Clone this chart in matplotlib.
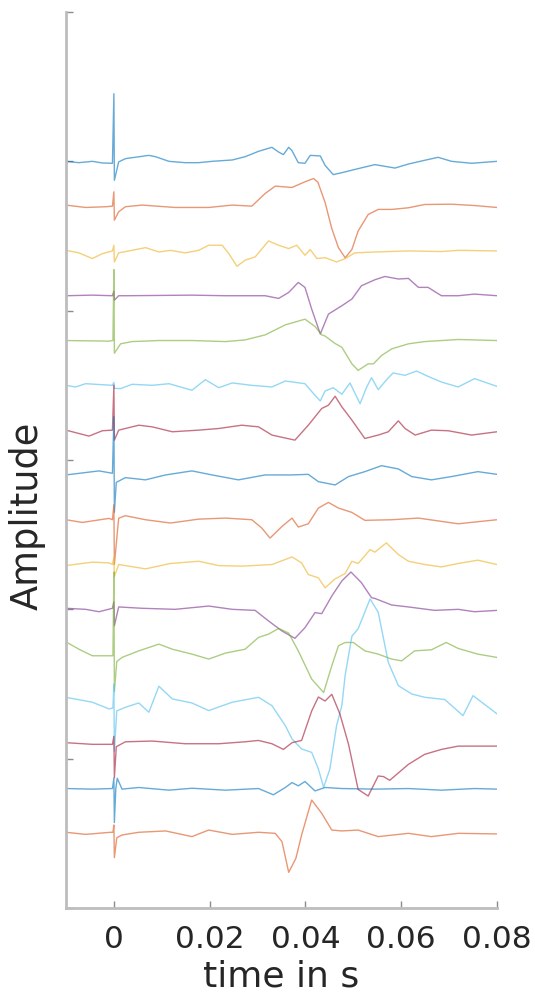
# 刺激後の応答波形を縦に並べて表示する

import matplotlib.pyplot as plt
import numpy as np

# データ定義 (時間 ms, 振幅) -------------------------------------------------
tr01 = [(-10, 0), (-7.3, -0.009), (-4.5, 0), (-2.4, -0.011), (-0.3, -0.013), (0, 0.453), (0.1, -0.127),
        (1.0, -0.004), (2.4, 0.018), (7.3, 0.040), (8.7, 0.031), (11.5, 0), (14.9, -0.009), (17.7, -0.009),
        (20.5, 0), (24.7, 0.009), (27.4, 0.031), (30.2, 0.067), (33.0, 0.094), (34.4, 0.062), (35.4, 0.045),
        (36.5, 0.094), (37.2, 0.071), (38.5, -0.009), (39.9, -0.013), (41.0, 0.040), (43.1, 0.036),
        (44.1, -0.027), (45.8, -0.089), (47.6, -0.076), (51.0, -0.049), (54.5, -0.022), (58.7, -0.045),
        (61.5, -0.018), (64.9, 0.007), (67.7, 0.027), (70.5, 0), (74.7, -0.013), (80, 0)]
tr02 = [(-10, 0.007), (-5.9, -0.009), (-1.7, -0.004), (-0.3, 0), (0, 0.096), (0.1, -0.094), (1.0, -0.038),
        (2.4, -0.004), (5.9, 0.007), (12.8, -0.009), (19.8, -0.009), (24.7, 0.007), (28.8, 0), (31.6, 0.085),
        (33.7, 0.134), (37.2, 0.125), (39.9, 0.163), (41.7, 0.185), (42.6, 0.16), (44.1, 0.025), (45.5, -0.15),
        (46.9, -0.279), (48.3, -0.346), (49.7, -0.29), (51.0, -0.167), (53.1, -0.056), (55.2, -0.022),
        (58.0, -0.022), (61.5, -0.011), (64.9, 0.011), (70.5, 0.013), (75.3, 0.004), (80, -0.009)]
tr03 = [(-10, 0.004), (-7.3, -0.013), (-4.5, -0.051), (-2.4, -0.018), (-0.3, 0), (0, 0.038), (0.1, -0.074),
        (1.0, -0.013), (3.1, 0), (6.6, 0.022), (9.4, -0.007), (11.8, 0.004), (14.9, -0.013), (17.7, 0.004),
        (19.8, 0.038), (22.6, 0.038), (24.0, -0.018), (25.7, -0.103), (27.4, -0.062), (29.5, -0.040),
        (32.3, 0.067), (34.4, 0.038), (36.5, 0.016), (38.2, 0.038), (39.9, -0.029), (41.0, 0.009),
        (42.4, -0.051), (44.1, -0.045), (46.5, -0.074), (48.3, -0.051), (50.3, -0.013), (54.5, -0.007),
        (61.5, 0), (68.4, -0.004), (71.9, 0.004), (80, 0)]
tr04 = [(-10, 0), (-4.5, 0.004), (-0.3, 0), (0, 0.03), (0.1, -0.03), (1.0, 0), (2.4, 0), (16.3, 0.004),
        (23.3, 0), (31.6, 0), (34.4, -0.018), (36.5, 0.022), (38.5, 0.089), (39.9, 0.056), (41.3, -0.089),
        (43.1, -0.256), (44.8, -0.123), (47.6, -0.067), (49.7, -0.022), (51.7, 0.067), (54.5, 0.107),
        (56.6, 0.129), (59.4, 0.112), (61.5, 0.116), (63.6, 0.056), (65.6, 0.056), (68.4, 0), (71.9, 0),
        (75.3, 0.011), (80, 0)]
tr05 = [(-10, 0), (-1.0, -0.004), (-0.2, 0), (0, 0.475), (0.1, -0.085), (1.4, -0.022), (3.8, -0.007),
        (9.4, 0), (16.3, 0), (23.3, -0.007), (27.4, 0.004), (31.6, 0.038), (35.8, 0.105), (39.9, 0.143),
        (42.0, 0.094), (43.4, 0.038), (44.1, 0.03), (46.2, -0.02), (47.6, -0.045), (49.7, -0.156),
        (51.0, -0.2), (53.1, -0.156), (54.2, -0.156), (55.9, -0.1), (58.0, -0.056), (61.5, -0.022),
        (64.9, -0.007), (71.9, 0.007), (80, 0)]
tr06 = [(-10, 0), (-8.0, -0.011), (-5.9, 0.011), (-0.3, 0), (0, 0.02), (0.1, -0.02), (1.4, -0.022),
        (3.8, 0.007), (8.0, 0), (11.5, 0.011), (16.3, -0.033), (19.1, 0.038), (21.9, -0.016), (24.7, 0.016),
        (28.8, 0), (33.0, -0.011), (35.8, 0.029), (39.9, 0.011), (41.7, -0.056), (43.1, -0.105),
        (44.1, -0.038), (45.8, -0.016), (47.6, -0.060), (49.3, 0.016), (51.4, -0.123), (52.8, -0.011),
        (53.8, 0.051), (55.2, -0.029), (56.9, 0.036), (58.3, 0.083), (60.8, 0.067), (63.2, 0.096),
        (65.6, 0.060), (68.4, 0.022), (71.9, -0.011), (75.3, 0.045), (80, -0.007)]
tr07 = [(-10, 0), (-5.2, -0.040), (-2.4, -0.004), (-0.3, 0), (0, 0.301), (0.1, -0.067), (1.0, 0),
        (5.2, 0.033), (8.0, 0.022), (12.2, -0.011), (17.7, 0), (21.9, 0.011), (26.7, 0.033), (30.2, 0.022),
        (33.0, -0.033), (37.8, -0.067), (40.6, 0.033), (43.4, 0.145), (44.8, 0.167), (46.2, 0.227),
        (47.6, 0.156), (49.7, 0.067), (52.4, -0.056), (55.2, -0.033), (57.3, -0.011), (59.4, 0.062),
        (60.8, 0.011), (62.9, -0.033), (66.3, 0), (69.8, -0.004), (74.7, -0.033), (80, -0.011)]
tr08 = [(-10, 0), (-3.1, 0.027), (-0.3, 0.011), (0, 0.39), (0.1, -0.25), (0.5, -0.05), (2.4, -0.018),
        (6.6, -0.033), (10.8, 0), (16.3, 0.027), (20.5, 0), (26.0, -0.033), (31.6, 0), (37.2, 0),
        (40.6, 0.004), (42.7, -0.045), (46.2, -0.067), (49.0, -0.011), (52.4, 0.022), (55.9, 0.062),
        (59.4, 0.040), (62.2, -0.011), (66.3, -0.033), (70.5, -0.011), (76.0, 0.022), (80, 0.004)]
tr09 = [(-10, 0), (-6.6, -0.018), (-1.0, 0.009), (-0.3, 0), (0, 0.1), (0.1, -0.30), (1.0, 0.01),
        (2.4, 0.027), (6.6, 0), (11.8, -0.022), (17.7, 0.004), (23.3, 0.011), (28.8, 0), (30.9, -0.056),
        (32.6, -0.123), (35.1, -0.045), (37.2, 0.011), (38.5, -0.049), (40.6, -0.027), (42.7, 0.078),
        (44.8, 0.116), (46.9, 0.078), (49.7, 0.049), (52.4, -0.004), (58.0, 0), (63.6, 0.011),
        (68.4, -0.011), (71.9, -0.027), (80, 0)]
tr10 = [(-10, -0.007), (-4.5, 0.016), (-1.0, 0.011), (-0.3, 0), (0, 0.05), (0.1, -0.08), (1.0, 0),
        (2.4, -0.007), (6.6, -0.029), (11.8, 0.007), (17.7, 0.022), (21.9, -0.007), (26.7, -0.011), (33.0, 0),
        (37.2, 0.051), (39.2, 0.011), (40.6, -0.067), (42.7, -0.089), (44.1, -0.156), (46.2, -0.096),
        (48.3, -0.060), (49.7, 0.022), (51.0, 0.007), (53.5, 0.100), (54.5, 0.083), (56.9, 0.145),
        (59.4, 0.067), (61.5, 0.022), (64.9, 0), (68.4, -0.016), (71.9, 0.007), (76.0, 0.029), (80, 0)]
tr11 = [(-10, 0.007), (-5.9, 0), (-3.1, -0.016), (-0.3, 0.007), (0, 0.05), (0.1, -0.11), (1.0, 0.016),
        (5.9, 0.007), (12.8, 0), (19.8, 0.022), (24.7, 0), (29.5, -0.007), (32.3, -0.078), (35.1, -0.145),
        (37.8, -0.194), (39.9, -0.123), (42.0, -0.022), (43.4, -0.029), (45.5, 0.089), (47.6, 0.19),
        (49.5, 0.25), (51.7, 0.178), (53.8, 0.078), (54.5, 0.073), (58.0, 0.029), (61.5, 0.016),
        (67.0, -0.007), (71.9, 0), (75.3, -0.016), (80, -0.007)]
tr12 = [(-10, 0.082), (-7.3, 0.033), (-4.5, -0.011), (-1.0, -0.011), (-0.2, -0.011), (0, 0.55), (0.1, -0.25),
        (0.6, -0.05), (1.7, -0.022), (5.2, 0.022), (9.4, 0.067), (12.2, 0.033), (16.3, 0), (19.8, -0.033),
        (23.3, 0.007), (27.4, 0.033), (30.2, 0.112), (32.3, 0.134), (34.4, 0.172), (36.5, 0.141),
        (38.5, 0.022), (41.3, -0.167), (43.8, -0.257), (45.5, -0.078), (46.9, 0.056), (48.3, 0.078),
        (50.0, 0.078), (52.4, 0.022), (55.2, 0), (58.0, -0.033), (60.1, -0.045), (62.8, 0.022),
        (66.3, 0.029), (69.4, 0.078), (71.9, 0.038), (76.0, 0), (80, -0.022)]
tr13 = [(-10, 0.011), (-4.5, -0.022), (-1.0, -0.067), (-0.2, -0.06), (0, 0.1), (0.1, -0.35), (0.6, -0.08),
        (2.4, -0.056), (5.2, -0.027), (7.3, -0.089), (9.4, 0.085), (12.2, 0), (16.3, -0.027), (19.8, -0.078),
        (24.7, -0.022), (30.2, 0.011), (33.0, -0.045), (35.8, -0.179), (37.2, -0.268), (39.2, -0.335),
        (41.3, -0.358), (42.7, -0.469), (43.8, -0.592), (45.1, -0.469), (46.5, -0.179), (47.6, -0.045),
        (48.3, 0.16), (49.7, 0.42), (51.0, 0.47), (53.5, 0.67), (55.2, 0.58), (57.3, 0.245), (59.4, 0.089),
        (62.2, 0.033), (64.9, 0.011), (69.1, -0.004), (72.9, -0.112), (75.0, 0.022), (80, -0.1)]
tr14 = [(-10, 0.007), (-4.5, -0.004), (-0.3, -0.004), (0, 0.05), (0.1, -0.228), (0.5, -0.02), (2.4, 0.013),
        (8.0, 0.018), (14.9, 0), (21.9, 0), (27.4, 0.013), (30.2, 0.022), (33.0, 0), (35.4, -0.038),
        (37.2, 0.007), (39.2, 0.022), (41.3, 0.219), (42.7, 0.313), (44.1, 0.286), (45.5, 0.331),
        (47.2, 0.199), (49.0, -0.004), (51.0, -0.306), (53.1, -0.35), (55.2, -0.216), (56.3, -0.22),
        (57.6, -0.245), (61.5, -0.138), (64.9, -0.071), (68.4, -0.038), (71.9, -0.016), (80, -0.016)]
tr15 = [(-10, 0), (-4.5, -0.004), (-0.3, 0), (0, 0.07), (0.1, -0.228), (0.4, 0), (0.7, 0.069), (1.7, -0.004),
        (5.2, 0.007), (11.5, -0.011), (16.3, 0.002), (23.3, -0.011), (30.2, 0), (33.3, -0.042), (35.8, 0.007),
        (37.2, 0.04), (38.5, 0.018), (39.9, 0.047), (42.0, -0.016), (44.1, 0.007), (47.6, 0), (54.5, -0.004),
        (61.5, 0), (68.4, -0.011), (75.3, 0), (80, -0.004)]
tr16 = [(-10, 0.007), (-5.9, -0.007), (-0.7, 0.007), (-0.2, 0.007), (0, 0.056), (0.1, -0.163), (0.6, -0.03),
        (1.7, -0.011), (5.2, 0.007), (10.8, 0.016), (16.3, -0.022), (19.8, 0.022), (24.7, -0.007),
        (30.2, 0.007), (33.7, 0), (35.1, -0.056), (36.5, -0.261), (38.0, -0.168), (39.2, -0.011),
        (41.3, 0.223), (43.4, 0.134), (45.5, 0.022), (47.6, 0.016), (51.0, 0.022), (55.2, -0.022),
        (61.5, 0), (66.3, -0.022), (71.9, 0), (80, -0.004)]

traces = [tr01, tr02, tr03, tr04, tr05, tr06, tr07, tr08,
          tr09, tr10, tr11, tr12, tr13, tr14, tr15, tr16]

# MATLAB標準の配色
colors = ['#0072BD', '#D95319', '#EDB120', '#7E2F8E', '#77AC30', '#4DBEEE', '#A2142F']

x_ticks = [0, 0.02, 0.04, 0.06, 0.08]
x_labels = ['0', '0.02', '0.04', '0.06', '0.08']
y_ticks = [0, 1, 2, 3, 4, 5, 6]

# 各波形の縦オフセット
top_offset = 5.0
step = 0.3

# プロット作成 ---------------------------------------------------------------
plt.rcParams['font.family'] = ['DejaVu Sans']

fig = plt.figure(figsize=(5.35, 9.96), dpi=100)
ax = fig.add_axes([66 / 535, 1 - 908 / 996, (497 - 66) / 535, (908 - 12) / 996])

for i, tr in enumerate(traces):
    t = np.array([p[0] for p in tr]) / 1000.0
    a = np.array([p[1] for p in tr]) + top_offset - step * i
    ax.plot(t, a, color=colors[i % len(colors)], linewidth=1.0, alpha=0.6)

ax.set_xlim(-0.01, 0.08)
ax.set_ylim(0, 6)
ax.set_xticks(x_ticks)
ax.set_xticklabels(x_labels)
ax.set_yticks(y_ticks)
ax.set_yticklabels([])

for side in ['top', 'right']:
    ax.spines[side].set_visible(False)
for side in ['left', 'bottom']:
    ax.spines[side].set_color('#bdbdbd')
    ax.spines[side].set_linewidth(2)

ax.tick_params(direction='in', length=5, width=1, color='#8c8c8c',
               labelsize=22.5, labelcolor='#262626', pad=12)

ax.set_xlabel('time in s', fontsize=26, color='#262626')
ax.xaxis.set_label_coords(0.5, -0.058)
ax.xaxis.label.set_va('top')
ax.set_ylabel('Amplitude', fontsize=26.5, color='#262626')
ax.yaxis.set_label_coords(-0.046, 0.4375)

fig.savefig('out.png', dpi=100)
